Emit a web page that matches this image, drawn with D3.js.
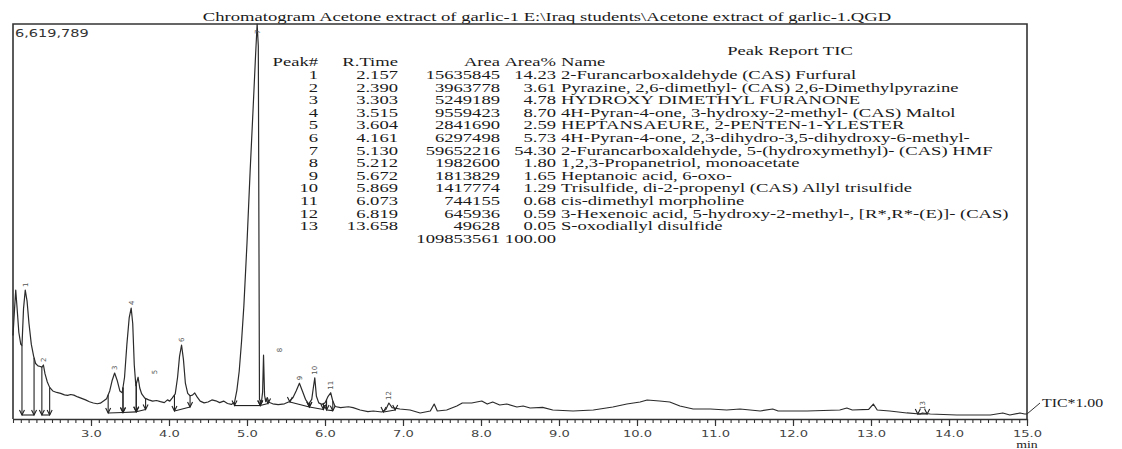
<!DOCTYPE html>
<html>
<head>
<meta charset="utf-8">
<script src="https://cdn.jsdelivr.net/npm/d3@7"></script>
<style>
  html, body { margin: 0; padding: 0; background: #fff; }
  svg { display: block; }
</style>
</head>
<body>
<svg id="chart" width="1122" height="449"></svg>
<script>
// ---- Total ion chromatogram: retention time (min) and intensity (counts) ----
const traceTime = [
  2.000, 2.020, 2.035, 2.050, 2.075, 2.100, 2.115, 2.135, 2.157, 2.180,
  2.205, 2.235, 2.265, 2.290, 2.320, 2.350, 2.370, 2.390, 2.410, 2.440,
  2.470, 2.510, 2.560, 2.610, 2.660, 2.700, 2.740, 2.780, 2.830, 2.880,
  2.930, 2.980, 3.030, 3.080, 3.120, 3.160, 3.200, 3.240, 3.270, 3.303,
  3.335, 3.370, 3.400, 3.430, 3.460, 3.490, 3.515, 3.535, 3.555, 3.575,
  3.604, 3.625, 3.650, 3.690, 3.740, 3.790, 3.840, 3.890, 3.940, 3.980,
  4.010, 4.040, 4.080, 4.110, 4.135, 4.161, 4.185, 4.210, 4.240, 4.270,
  4.300, 4.330, 4.360, 4.400, 4.450, 4.500, 4.550, 4.600, 4.650, 4.700,
  4.750, 4.800, 4.840, 4.870, 4.900, 4.930, 4.960, 5.000, 5.040, 5.080,
  5.110, 5.130, 5.145, 5.160, 5.185, 5.200, 5.212, 5.225, 5.240, 5.260,
  5.280, 5.330, 5.400, 5.480, 5.540, 5.590, 5.630, 5.672, 5.710, 5.750,
  5.790, 5.830, 5.850, 5.869, 5.890, 5.920, 5.960, 6.000, 6.040, 6.073,
  6.100, 6.130, 6.200, 6.300, 6.360, 6.450, 6.550, 6.620, 6.730, 6.780,
  6.819, 6.860, 6.960, 7.090, 7.220, 7.350, 7.400, 7.440, 7.560, 7.690,
  7.760, 7.880, 8.010, 8.080, 8.150, 8.240, 8.330, 8.460, 8.540, 8.630,
  8.790, 8.920, 9.180, 9.440, 9.690, 9.870, 10.040, 10.130, 10.290, 10.420,
  10.550, 10.720, 10.940, 11.150, 11.320, 11.580, 11.740, 11.810, 12.180, 12.600,
  12.690, 12.760, 12.970, 13.030, 13.080, 13.240, 13.460, 13.630, 13.658, 13.760,
  14.100, 14.530, 14.690, 14.780, 14.910, 14.970, 15.000
];
const traceIntensity = [
  1400000, 1850000, 2160000, 1900000, 1450000, 1250000, 1230000, 1850000, 2160000, 1980000,
  1600000, 1250000, 1050000, 930000, 890000, 880000, 870000, 905000, 760000, 620000,
  530000, 470000, 445000, 430000, 405000, 395000, 410000, 400000, 370000, 345000,
  320000, 290000, 268000, 255000, 265000, 300000, 340000, 470000, 640000, 770000,
  650000, 470000, 440000, 700000, 1250000, 1700000, 1860000, 1600000, 900000, 560000,
  700000, 520000, 420000, 350000, 320000, 300000, 310000, 290000, 275000, 320000,
  300000, 350000, 420000, 700000, 1050000, 1240000, 1000000, 600000, 430000, 390000,
  400000, 436000, 370000, 300000, 270000, 285000, 320000, 305000, 275000, 300000,
  260000, 245000, 280000, 480000, 800000, 1300000, 1900000, 2950000, 4150000, 5250000,
  6100000, 6619789, 6250000, 330000, 280000, 450000, 1070000, 400000, 290000, 360000,
  280000, 255000, 240000, 255000, 290000, 360000, 470000, 600000, 470000, 330000,
  250000, 330000, 520000, 690000, 380000, 270000, 245000, 270000, 380000, 440000,
  300000, 210000, 190000, 205000, 190000, 151000, 125000, 134000, 117000, 160000,
  268000, 190000, 168000, 151000, 101000, 134000, 251000, 134000, 151000, 218000,
  268000, 268000, 302000, 251000, 285000, 235000, 251000, 201000, 218000, 184000,
  195000, 151000, 134000, 151000, 201000, 251000, 285000, 318000, 302000, 285000,
  218000, 168000, 168000, 151000, 168000, 134000, 168000, 134000, 134000, 151000,
  184000, 151000, 160000, 251000, 151000, 134000, 101000, 84000, 101000, 84000,
  67000, 67000, 101000, 67000, 101000, 84000, 84000
];
const maxIntensityLabel = "6,619,789";
const traceLabel = "TIC*1.00";

// ---- Peak report ----
const peakNo = [1, 2, 3, 4, 5, 6, 7, 8, 9, 10, 11, 12, 13];
const retTime = [2.157, 2.390, 3.303, 3.515, 3.604, 4.161, 5.130, 5.212, 5.672, 5.869, 6.073, 6.819, 13.658];
const peakArea = [15635845, 3963778, 5249189, 9559423, 2841690, 6297498, 59652216, 1982600, 1813829, 1417774, 744155, 645936, 49628];
const areaPct = [14.23, 3.61, 4.78, 8.70, 2.59, 5.73, 54.30, 1.80, 1.65, 1.29, 0.68, 0.59, 0.05];
const peakName = [
  "2-Furancarboxaldehyde (CAS) Furfural",
  "Pyrazine, 2,6-dimethyl- (CAS) 2,6-Dimethylpyrazine",
  "HYDROXY DIMETHYL FURANONE",
  "4H-Pyran-4-one, 3-hydroxy-2-methyl- (CAS) Maltol",
  "HEPTANSAEURE, 2-PENTEN-1-YLESTER",
  "4H-Pyran-4-one, 2,3-dihydro-3,5-dihydroxy-6-methyl-",
  "2-Furancarboxaldehyde, 5-(hydroxymethyl)- (CAS) HMF",
  "1,2,3-Propanetriol, monoacetate",
  "Heptanoic acid, 6-oxo-",
  "Trisulfide, di-2-propenyl (CAS) Allyl trisulfide",
  "cis-dimethyl morpholine",
  "3-Hexenoic acid, 5-hydroxy-2-methyl-, [R*,R*-(E)]- (CAS)",
  "S-oxodiallyl disulfide"
];
const totalArea = 109853561;
const totalPct = 100.00;
const tableHeader = ["Peak#", "R.Time", "Area", "Area%", "Name"];

// ---- Integration windows (min) and baseline levels (counts) ----
const peakStart = [2.115, 2.370, 3.220, 3.410, 3.580, 4.070, 4.840, 5.170, 5.550, 5.800, 6.020, 6.750, 13.600];
const peakEnd   = [2.270, 2.470, 3.410, 3.580, 3.700, 4.270, 5.170, 5.270, 5.800, 5.980, 6.100, 6.900, 13.720];
const baseStart = [67000, 67000, 101000, 110000, 120000, 134000, 225000, 225000, 285000, 201000, 150000, 117000, 84000];
const baseEnd   = [67000, 67000, 110000, 120000, 160000, 201000, 225000, 260000, 201000, 160000, 140000, 150000, 84000];

// ---- Axis ----
const xTickValues = [3, 4, 5, 6, 7, 8, 9, 10, 11, 12, 13, 14, 15];
const xTickLabels = ["3.0", "4.0", "5.0", "6.0", "7.0", "8.0", "9.0", "10.0", "11.0", "12.0", "13.0", "14.0", "15.0"];
const xUnit = "min";
const titleText = "Chromatogram Acetone extract of garlic-1 E:\\Iraq students\\Acetone extract of garlic-1.QGD";
const reportTitle = "Peak Report TIC";

// ---------------------------------------------------------------------------
const SX = 1.38;                       // horizontal text stretch
const SX_TABLE = 1.55;                 // stretch for the smaller table font
const serif = "'Liberation Serif', 'Times New Roman', serif";
const sans = "'DejaVu Sans', Verdana, sans-serif";
const frame = { left: 13, right: 1027, top: 24, bottom: 419 };

const svg = d3.select("#chart");

const x = d3.scaleLinear().domain([2.0, 15.0]).range([frame.left, frame.right]);
const y = d3.scaleLinear().domain([0, 6619789]).range([frame.bottom, frame.top]);

function stretchBy(k) {
  return sel => sel.attr("transform", function () {
    const tx = +this.getAttribute("x") || 0, ty = +this.getAttribute("y") || 0;
    return `translate(${tx},${ty}) scale(${k},1) translate(${-tx},${-ty})`;
  });
}
const stretch = stretchBy(SX);
const stretchT = stretchBy(SX_TABLE);

function traceAt(t) {
  const i = d3.bisectLeft(traceTime, t);
  if (i <= 0) return traceIntensity[0];
  if (i >= traceTime.length) return traceIntensity[traceTime.length - 1];
  const t0 = traceTime[i - 1], t1 = traceTime[i];
  const v0 = traceIntensity[i - 1], v1 = traceIntensity[i];
  return v0 + (v1 - v0) * (t - t0) / (t1 - t0);
}

// Title
svg.append("text")
  .attr("x", 547).attr("y", 21)
  .attr("text-anchor", "middle")
  .style("font-family", serif).style("font-size", "13.5px").style("fill", "#1a1a1a")
  .text(titleText)
  .call(stretch);

// Frame
svg.append("path")
  .attr("d", `M${frame.left},${frame.bottom} V${frame.top} H${frame.right} V${frame.bottom}`)
  .attr("fill", "none").attr("stroke", "#333").attr("stroke-width", 1.6);

// Max intensity label
svg.append("text")
  .attr("x", 15).attr("y", 37)
  .style("font-family", sans).style("font-size", "10.5px").style("fill", "#333")
  .text(maxIntensityLabel)
  .call(stretch);

// X axis: minor and major ticks
const minorTicks = d3.range(20, 151).map(d => d / 10);
const gMinor = svg.append("g").attr("transform", `translate(0,${frame.bottom})`)
  .call(d3.axisBottom(x).tickValues(minorTicks).tickFormat("").tickSize(4).tickSizeOuter(0));
gMinor.select(".domain").remove();
gMinor.selectAll("line").attr("stroke", "#333").attr("stroke-width", 1.1);

const gMajor = svg.append("g").attr("transform", `translate(0,${frame.bottom})`)
  .call(d3.axisBottom(x).tickValues(xTickValues)
    .tickFormat((d, i) => xTickLabels[i]).tickSize(7).tickSizeOuter(0));
gMajor.select(".domain").attr("stroke", "#333").attr("stroke-width", 1.6);
gMajor.selectAll("line").attr("stroke", "#333").attr("stroke-width", 1.2);
gMajor.selectAll("text")
  .attr("y", 18).attr("dy", null)
  .style("font-family", sans).style("font-size", "9.5px").style("fill", "#444")
  .call(stretch);

svg.append("text")
  .attr("x", 1027).attr("y", 448).attr("text-anchor", "middle")
  .style("font-family", serif).style("font-size", "10px").style("fill", "#222")
  .text(xUnit)
  .call(stretch);

// Integration baselines, drop lines and markers
const gInt = svg.append("g").attr("stroke", "#222").attr("stroke-width", 1.1).attr("fill", "none");
peakNo.forEach((p, i) => {
  const xs = x(peakStart[i]), xe = x(peakEnd[i]);
  const ys = y(baseStart[i]), ye = y(baseEnd[i]);
  gInt.append("line").attr("x1", xs).attr("y1", ys).attr("x2", xe).attr("y2", ye);
  [[xs, ys, peakStart[i]], [xe, ye, peakEnd[i]]].forEach(([px, py, t]) => {
    gInt.append("line").attr("x1", px).attr("x2", px)
      .attr("y1", y(traceAt(t))).attr("y2", py);
    gInt.append("path").attr("d", `M${px - 2.5},${py - 5} L${px},${py} L${px + 2.5},${py - 5}`);
  });
});

// Chromatogram trace
const line = d3.line()
  .x((d, i) => x(traceTime[i]))
  .y((d, i) => y(traceIntensity[i]));
svg.append("path")
  .datum(traceTime)
  .attr("d", line)
  .attr("fill", "none").attr("stroke", "#2b2b2b").attr("stroke-width", 1.2)
  .attr("stroke-linejoin", "round");

// Peak number labels (rotated)
const labelNudge = { 5: 16, 8: 16 };
peakNo.forEach((p, i) => {
  const lx = x(retTime[i]) + (labelNudge[p] || 0);
  const ly = Math.max(frame.top + 10, y(traceAt(retTime[i])) - 3);
  svg.append("text")
    .attr("transform", `translate(${lx},${ly}) rotate(-90)`)
    .attr("dy", "0.35em")
    .style("font-family", sans).style("font-size", "7px").style("fill", "#555")
    .text(p);
});

// Trace name at the right end
svg.append("line")
  .attr("x1", frame.right).attr("y1", y(traceIntensity[traceIntensity.length - 1]))
  .attr("x2", frame.right + 13).attr("y2", 403)
  .attr("stroke", "#333").attr("stroke-width", 1);
svg.append("text")
  .attr("x", 1042).attr("y", 407)
  .style("font-family", serif).style("font-size", "11.5px").style("fill", "#222")
  .text(traceLabel)
  .call(stretch);

// Peak report table
const fmtPct = d3.format(".2f");
const tbl = svg.append("g")
  .style("font-family", serif).style("font-size", "12px").style("fill", "#1a1a1a");
const colX = [318, 398, 500, 556, 561];
const colAnchor = ["end", "end", "end", "end", "start"];
const rowY0 = 79, rowStep = 12.6;

tbl.append("text").attr("x", 790).attr("y", 55).attr("text-anchor", "middle")
  .text(reportTitle).call(stretchT);

tableHeader.forEach((h, c) => {
  tbl.append("text").attr("x", colX[c]).attr("y", 66.5).attr("text-anchor", colAnchor[c])
    .text(h).call(stretchT);
});

peakNo.forEach((p, i) => {
  const cells = [p, retTime[i].toFixed(3), peakArea[i], fmtPct(areaPct[i]), peakName[i]];
  cells.forEach((v, c) => {
    tbl.append("text").attr("x", colX[c]).attr("y", rowY0 + i * rowStep)
      .attr("text-anchor", colAnchor[c]).text(v).call(stretchT);
  });
});
const totalY = rowY0 + peakNo.length * rowStep;
tbl.append("text").attr("x", colX[2]).attr("y", totalY).attr("text-anchor", "end")
  .text(totalArea).call(stretchT);
tbl.append("text").attr("x", colX[3]).attr("y", totalY).attr("text-anchor", "end")
  .text(fmtPct(totalPct)).call(stretchT);
</script>
</body>
</html>
